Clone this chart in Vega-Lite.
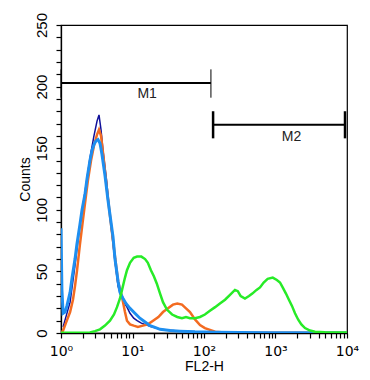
{
  "$schema": "https://vega.github.io/schema/vega-lite/v6.json",
  "width": 286,
  "height": 308,
  "autosize": {"type": "none"},
  "padding": {"left": 61, "top": 25, "right": 23, "bottom": 47},
  "background": "white",
  "config": {
    "view": {"stroke": "black", "strokeWidth": 1.2},
    "font": "Liberation Sans",
    "axis": {
      "domainColor": "black", "domainWidth": 1.3, "tickColor": "black", "tickWidth": 1.2,
      "labelColor": "black", "titleColor": "black", "grid": false,
      "labelFont": "Liberation Sans", "titleFont": "Liberation Sans",
      "labelFontSize": 15, "titleFontSize": 14, "titleFontWeight": "normal",
      "labelFlush": false, "labelOverlap": false
    }
  },
  "datasets": {
    "curves": [
      {"s":"navy","fl2":1.07,"count":5},{"s":"navy","fl2":1.34,"count":25},{"s":"navy","fl2":1.57,"count":55},{"s":"navy","fl2":1.84,"count":88},{"s":"navy","fl2":2.17,"count":115},{"s":"navy","fl2":2.54,"count":142},{"s":"navy","fl2":2.89,"count":160},{"s":"navy","fl2":3.19,"count":172},{"s":"navy","fl2":3.40,"count":177},{"s":"navy","fl2":3.63,"count":165},{"s":"navy","fl2":3.87,"count":148},{"s":"navy","fl2":4.32,"count":125},{"s":"navy","fl2":4.84,"count":95},{"s":"navy","fl2":5.69,"count":58},{"s":"navy","fl2":6.28,"count":38},{"s":"navy","fl2":6.89,"count":30},{"s":"navy","fl2":7.61,"count":25},{"s":"navy","fl2":8.37,"count":21},{"s":"navy","fl2":9.23,"count":16},{"s":"navy","fl2":10.4,"count":12},{"s":"navy","fl2":11.6,"count":10},{"s":"navy","fl2":13.3,"count":8},{"s":"navy","fl2":17.6,"count":5.5},{"s":"navy","fl2":24.3,"count":3},{"s":"navy","fl2":46.2,"count":1.5},{"s":"navy","fl2":167,"count":0.5},{"s":"navy","fl2":10000,"count":0.1},

      {"s":"orange","fl2":1,"count":0},{"s":"orange","fl2":1.07,"count":2},{"s":"orange","fl2":1.17,"count":8},{"s":"orange","fl2":1.34,"count":17},{"s":"orange","fl2":1.47,"count":27},{"s":"orange","fl2":1.57,"count":38},{"s":"orange","fl2":1.67,"count":50},{"s":"orange","fl2":1.84,"count":72},{"s":"orange","fl2":2.03,"count":92},{"s":"orange","fl2":2.24,"count":112},{"s":"orange","fl2":2.38,"count":124},{"s":"orange","fl2":2.63,"count":140},{"s":"orange","fl2":2.89,"count":152},{"s":"orange","fl2":3.19,"count":161},{"s":"orange","fl2":3.40,"count":165},{"s":"orange","fl2":3.63,"count":160},{"s":"orange","fl2":3.98,"count":140},{"s":"orange","fl2":4.40,"count":116},{"s":"orange","fl2":5.01,"count":88},{"s":"orange","fl2":5.69,"count":62},{"s":"orange","fl2":6.28,"count":42},{"s":"orange","fl2":7.14,"count":29},{"s":"orange","fl2":7.85,"count":17},{"s":"orange","fl2":8.37,"count":10},{"s":"orange","fl2":9.23,"count":7},{"s":"orange","fl2":10.4,"count":6},{"s":"orange","fl2":11.9,"count":5},{"s":"orange","fl2":14.0,"count":6},{"s":"orange","fl2":16.4,"count":7},{"s":"orange","fl2":19.4,"count":10},{"s":"orange","fl2":23.0,"count":13},{"s":"orange","fl2":26.7,"count":17},{"s":"orange","fl2":31.4,"count":20},{"s":"orange","fl2":36.8,"count":23},{"s":"orange","fl2":42.3,"count":24},{"s":"orange","fl2":49.2,"count":23},{"s":"orange","fl2":56.0,"count":20},{"s":"orange","fl2":63.7,"count":17},{"s":"orange","fl2":74.8,"count":11},{"s":"orange","fl2":87.9,"count":6.5},{"s":"orange","fl2":103,"count":4},{"s":"orange","fl2":121,"count":2.5},{"s":"orange","fl2":143,"count":1},{"s":"orange","fl2":197,"count":0.5},{"s":"orange","fl2":10000,"count":0.3},

      {"s":"blue","fl2":1,"count":85},{"s":"blue","fl2":1.03,"count":35},{"s":"blue","fl2":1.07,"count":16},{"s":"blue","fl2":1.14,"count":17},{"s":"blue","fl2":1.21,"count":22},{"s":"blue","fl2":1.34,"count":33},{"s":"blue","fl2":1.43,"count":45},{"s":"blue","fl2":1.57,"count":60},{"s":"blue","fl2":1.67,"count":72},{"s":"blue","fl2":1.84,"count":88},{"s":"blue","fl2":1.97,"count":100},{"s":"blue","fl2":2.17,"count":113},{"s":"blue","fl2":2.31,"count":125},{"s":"blue","fl2":2.54,"count":140},{"s":"blue","fl2":2.71,"count":148},{"s":"blue","fl2":2.89,"count":153},{"s":"blue","fl2":3.09,"count":156},{"s":"blue","fl2":3.29,"count":157},{"s":"blue","fl2":3.51,"count":154},{"s":"blue","fl2":3.74,"count":145},{"s":"blue","fl2":4.12,"count":128},{"s":"blue","fl2":4.54,"count":108},{"s":"blue","fl2":4.84,"count":96},{"s":"blue","fl2":5.34,"count":78},{"s":"blue","fl2":5.69,"count":60},{"s":"blue","fl2":6.28,"count":42},{"s":"blue","fl2":6.68,"count":33},{"s":"blue","fl2":7.37,"count":28},{"s":"blue","fl2":8.1,"count":24},{"s":"blue","fl2":9.23,"count":20},{"s":"blue","fl2":10.8,"count":16},{"s":"blue","fl2":12.7,"count":12},{"s":"blue","fl2":15.0,"count":9},{"s":"blue","fl2":17.6,"count":6},{"s":"blue","fl2":20.6,"count":4.5},{"s":"blue","fl2":24.3,"count":3},{"s":"blue","fl2":33.5,"count":2},{"s":"blue","fl2":46.2,"count":1.5},{"s":"blue","fl2":74.8,"count":1},{"s":"blue","fl2":143,"count":0.7},{"s":"blue","fl2":319,"count":0.5},{"s":"blue","fl2":838,"count":0.3},{"s":"blue","fl2":2202,"count":0.2},{"s":"blue","fl2":10000,"count":0.1},

      {"s":"green","fl2":1,"count":0.3},{"s":"green","fl2":1.84,"count":0.3},{"s":"green","fl2":2.54,"count":0.5},{"s":"green","fl2":2.99,"count":1.5},{"s":"green","fl2":3.51,"count":3},{"s":"green","fl2":4.12,"count":6},{"s":"green","fl2":4.84,"count":10},{"s":"green","fl2":5.51,"count":15},{"s":"green","fl2":6.07,"count":21},{"s":"green","fl2":6.68,"count":28},{"s":"green","fl2":7.14,"count":35},{"s":"green","fl2":7.85,"count":45},{"s":"green","fl2":8.37,"count":51},{"s":"green","fl2":9.23,"count":57},{"s":"green","fl2":10.4,"count":61},{"s":"green","fl2":11.6,"count":62},{"s":"green","fl2":13.3,"count":62},{"s":"green","fl2":15.0,"count":60},{"s":"green","fl2":16.4,"count":57},{"s":"green","fl2":18.1,"count":51},{"s":"green","fl2":19.9,"count":46},{"s":"green","fl2":21.9,"count":40},{"s":"green","fl2":24.3,"count":32},{"s":"green","fl2":26.7,"count":25},{"s":"green","fl2":30.3,"count":19},{"s":"green","fl2":35.8,"count":15},{"s":"green","fl2":42.3,"count":13},{"s":"green","fl2":49.2,"count":12},{"s":"green","fl2":56.0,"count":13},{"s":"green","fl2":63.7,"count":12},{"s":"green","fl2":74.8,"count":12},{"s":"green","fl2":87.9,"count":13},{"s":"green","fl2":103,"count":15},{"s":"green","fl2":121,"count":18},{"s":"green","fl2":143,"count":21},{"s":"green","fl2":167,"count":24},{"s":"green","fl2":197,"count":27},{"s":"green","fl2":231,"count":31},{"s":"green","fl2":271,"count":35},{"s":"green","fl2":297,"count":34},{"s":"green","fl2":326,"count":30},{"s":"green","fl2":374,"count":28},{"s":"green","fl2":426,"count":30},{"s":"green","fl2":474,"count":32},{"s":"green","fl2":543,"count":35},{"s":"green","fl2":607,"count":37},{"s":"green","fl2":683,"count":41},{"s":"green","fl2":777,"count":44},{"s":"green","fl2":915,"count":45},{"s":"green","fl2":1045,"count":43},{"s":"green","fl2":1156,"count":41},{"s":"green","fl2":1260,"count":37},{"s":"green","fl2":1400,"count":32},{"s":"green","fl2":1540,"count":27},{"s":"green","fl2":1700,"count":22},{"s":"green","fl2":1874,"count":16},{"s":"green","fl2":2070,"count":11},{"s":"green","fl2":2300,"count":7},{"s":"green","fl2":2587,"count":4},{"s":"green","fl2":3040,"count":2},{"s":"green","fl2":3570,"count":1},{"s":"green","fl2":4900,"count":0.6},{"s":"green","fl2":10000,"count":0.5}
    ],
    "bars": [
      {"marker":"M1","fl2":1,"fl2_end":125,"count":203},
      {"marker":"M2","fl2":134,"fl2_end":9380,"count":169}
    ],
    "ends": [
      {"marker":"M1","fl2":1,"count":191,"count_end":214},
      {"marker":"M1","fl2":125,"count":191,"count_end":214},
      {"marker":"M2","fl2":134,"count":158,"count_end":180},
      {"marker":"M2","fl2":9380,"count":158,"count_end":180}
    ],
    "labels": [
      {"marker":"M1","fl2":16,"count":194},
      {"marker":"M2","fl2":1675,"count":159}
    ]
  },
  "encoding": {
    "x": {"field": "fl2", "type": "quantitative", "title": "FL2-H",
      "scale": {"type": "log", "domain": [1, 10000], "nice": false},
      "axis": {
        "values": [1,2,3,4,5,6,7,8,9,10,20,30,40,50,60,70,80,90,100,200,300,400,500,600,700,800,900,1000,2000,3000,4000,5000,6000,7000,8000,9000,10000],
        "labelExpr": "datum.value == 1 ? '10⁰' : datum.value == 10 ? '10¹' : datum.value == 100 ? '10²' : datum.value == 1000 ? '10³' : datum.value == 10000 ? '10⁴' : ''",
        "labelFont": "DejaVu Sans", "labelFontSize": 14,
        "labelOverlap": false, "labelFlush": false,
        "tickSize": 5, "labelPadding": 6, "titlePadding": 1}},
    "y": {"field": "count", "type": "quantitative", "title": "Counts",
      "scale": {"domain": [0, 250], "nice": false},
      "axis": {
        "values": [0,10,20,30,40,50,60,70,80,90,100,110,120,130,140,150,160,170,180,190,200,210,220,230,240,250],
        "labelExpr": "datum.value % 50 == 0 ? format(datum.value, 'd') : ''",
        "labelOverlap": false, "labelFlush": false,
        "labelAngle": 270, "labelAlign": "center", "labelBaseline": "bottom",
        "tickSize": 5, "labelPadding": 7, "titlePadding": 2}}
  },
  "layer": [
    {
      "data": {"name": "curves"},
      "transform": [{"filter": "datum.s == 'navy'"}],
      "mark": {"type": "line", "color": "#10109a", "strokeWidth": 1.5, "clip": true}
    },
    {
      "data": {"name": "curves"},
      "transform": [{"filter": "datum.s == 'orange'"}],
      "mark": {"type": "line", "color": "#f36b21", "strokeWidth": 2.5, "clip": true}
    },
    {
      "data": {"name": "curves"},
      "transform": [{"filter": "datum.s == 'blue'"}],
      "mark": {"type": "line", "color": "#1e8ff0", "strokeWidth": 3, "clip": true}
    },
    {
      "data": {"name": "curves"},
      "transform": [{"filter": "datum.s == 'green'"}],
      "mark": {"type": "line", "color": "#27eb27", "strokeWidth": 2.5, "clip": true}
    },
    {
      "data": {"name": "bars"},
      "mark": {"type": "rule", "color": "black", "strokeWidth": 2},
      "encoding": {"x2": {"field": "fl2_end"}}
    },
    {
      "data": {"name": "ends"},
      "mark": {"type": "rule", "color": "black"},
      "encoding": {"y2": {"field": "count_end"},
        "strokeWidth": {"condition": {"test": "datum.marker == 'M2'", "value": 2.5}, "value": 1}}
    },
    {
      "data": {"name": "labels"},
      "mark": {"type": "text", "font": "Liberation Sans", "fontSize": 14, "color": "#222222", "align": "center", "baseline": "middle"},
      "encoding": {"text": {"field": "marker"}}
    }
  ]
}
